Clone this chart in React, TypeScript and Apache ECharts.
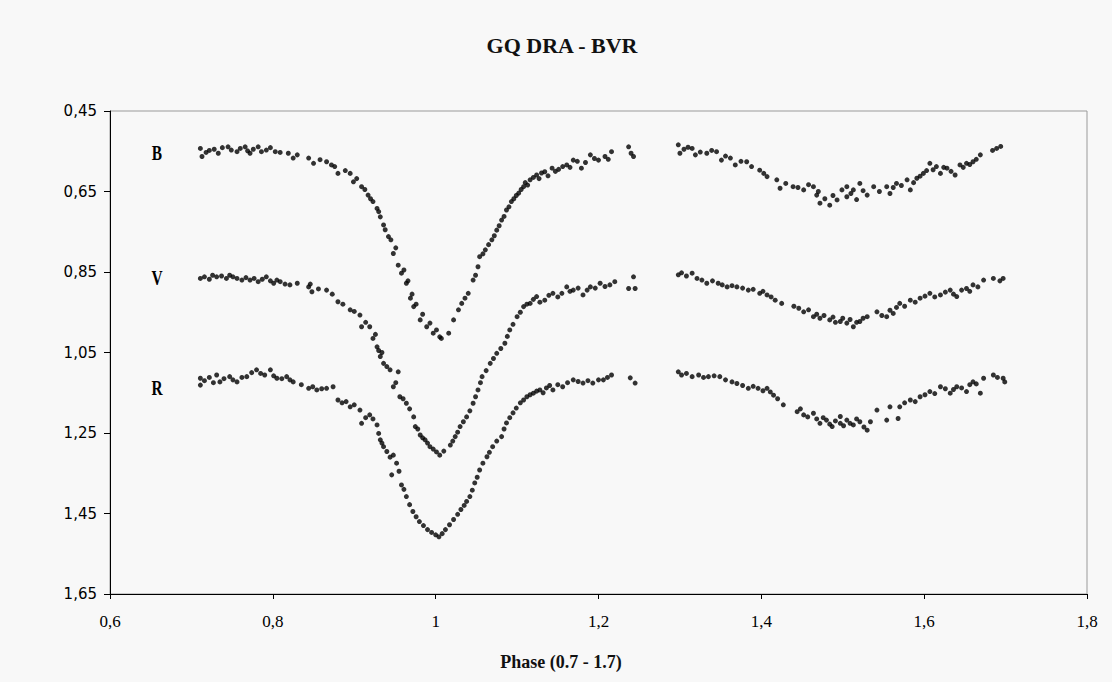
import React, { useEffect, useRef } from "react";
import * as echarts from "echarts";

const titleText = "GQ DRA - BVR";
const xAxisTitle = "Phase (0.7 - 1.7)";
const bandLabels = ["B", "V", "R"];

const bandB: number[][] = [
  [0.711,0.543],[0.713,0.563],[0.718,0.553],[0.722,0.548],[0.728,0.545],[0.733,0.555],[0.738,0.541],[0.745,0.539],[0.749,0.547],[0.756,0.551],[0.760,0.543],[0.766,0.539],[0.769,0.549],[0.772,0.555],[0.776,0.545],[0.782,0.539],[0.786,0.551],[0.792,0.547],[0.797,0.541],[0.803,0.551],[0.809,0.553],[0.819,0.555],[0.825,0.567],[0.830,0.559],[0.844,0.567],[0.850,0.580],[0.858,0.571],[0.866,0.576],[0.872,0.584],[0.876,0.588],[0.880,0.605],[0.889,0.598],[0.895,0.605],[0.899,0.626],[0.903,0.618],[0.909,0.638],[0.913,0.645],[0.917,0.659],[0.920,0.668],[0.923,0.675],[0.928,0.692],[0.930,0.700],[0.932,0.713],[0.936,0.733],[0.938,0.745],[0.942,0.762],[0.945,0.770],[0.948,0.804],[0.951,0.790],[0.954,0.833],[0.958,0.853],[0.961,0.845],[0.964,0.878],[0.966,0.872],[0.969,0.915],[0.971,0.905],[0.973,0.936],[0.976,0.930],[0.981,0.969],[0.984,0.955],[0.989,0.986],[0.993,0.977],[0.997,1.002],[1.001,0.994],[1.005,1.011],[1.007,1.015],
  [1.016,1.002],[1.022,0.969],[1.028,0.944],[1.032,0.928],[1.036,0.915],[1.040,0.903],[1.046,0.870],[1.049,0.858],[1.052,0.837],[1.054,0.812],[1.058,0.805],[1.061,0.795],[1.065,0.782],[1.069,0.770],[1.072,0.760],[1.075,0.746],[1.078,0.735],[1.081,0.721],[1.084,0.712],[1.087,0.696],[1.090,0.688],[1.093,0.675],[1.096,0.668],[1.099,0.660],[1.102,0.654],[1.105,0.645],[1.108,0.638],[1.110,0.628],[1.113,0.634],[1.116,0.621],[1.120,0.615],[1.124,0.609],[1.127,0.618],[1.130,0.604],[1.134,0.601],[1.138,0.611],[1.143,0.592],[1.147,0.600],[1.151,0.595],[1.156,0.588],[1.161,0.584],[1.165,0.590],[1.169,0.572],[1.174,0.575],[1.179,0.592],[1.184,0.578],[1.190,0.559],[1.195,0.568],[1.200,0.572],[1.208,0.563],[1.212,0.570],[1.216,0.551],[1.237,0.539],[1.240,0.555],[1.243,0.563],
  [1.298,0.534],[1.300,0.555],[1.305,0.545],[1.310,0.540],[1.315,0.543],[1.319,0.559],[1.325,0.552],[1.333,0.555],[1.339,0.548],[1.345,0.551],[1.351,0.572],[1.356,0.562],[1.362,0.567],[1.368,0.584],[1.375,0.575],[1.382,0.576],[1.388,0.588],[1.398,0.597],[1.403,0.605],[1.407,0.613],[1.419,0.621],[1.423,0.642],[1.430,0.630],[1.439,0.638],[1.445,0.640],[1.452,0.646],[1.458,0.633],[1.464,0.638],[1.468,0.659],[1.470,0.650],[1.472,0.679],[1.478,0.668],[1.484,0.684],[1.488,0.660],[1.493,0.671],[1.499,0.646],[1.505,0.663],[1.505,0.638],[1.510,0.655],[1.513,0.646],[1.517,0.670],[1.521,0.630],[1.525,0.648],[1.530,0.659],[1.538,0.638],[1.545,0.650],[1.554,0.638],[1.558,0.655],[1.562,0.640],[1.566,0.630],[1.572,0.635],[1.579,0.621],[1.583,0.646],[1.587,0.628],[1.591,0.617],[1.595,0.612],[1.599,0.605],[1.603,0.598],[1.607,0.580],[1.611,0.596],[1.615,0.588],[1.620,0.605],[1.624,0.590],[1.628,0.592],[1.633,0.600],[1.638,0.609],[1.644,0.584],[1.648,0.590],[1.652,0.580],[1.656,0.583],[1.660,0.576],[1.664,0.570],[1.669,0.559],[1.684,0.548],[1.689,0.543],[1.694,0.538]
];

const bandV: number[][] = [
  [0.711,0.866],[0.716,0.862],[0.722,0.868],[0.726,0.858],[0.731,0.862],[0.737,0.860],[0.743,0.866],[0.747,0.858],[0.751,0.862],[0.756,0.866],[0.762,0.870],[0.767,0.864],[0.772,0.870],[0.777,0.866],[0.782,0.874],[0.787,0.868],[0.792,0.862],[0.797,0.872],[0.801,0.878],[0.805,0.870],[0.809,0.874],[0.815,0.880],[0.821,0.882],[0.830,0.878],[0.844,0.887],[0.846,0.880],[0.848,0.899],[0.856,0.892],[0.866,0.895],[0.873,0.905],[0.880,0.924],[0.886,0.930],[0.895,0.944],[0.900,0.948],[0.907,0.957],[0.909,0.986],[0.914,0.975],[0.919,0.986],[0.923,1.015],[0.926,1.005],[0.928,1.036],[0.930,1.045],[0.932,1.060],[0.934,1.050],[0.936,1.077],[0.940,1.085],[0.944,1.093],[0.948,1.135],[0.951,1.125],[0.954,1.098],[0.956,1.160],[0.960,1.165],[0.964,1.176],[0.968,1.190],[0.973,1.210],[0.975,1.234],[0.978,1.240],[0.981,1.255],[0.984,1.262],[0.987,1.267],[0.990,1.275],[0.993,1.284],[0.997,1.290],[1.001,1.297],[1.005,1.305],[1.010,1.295],
  [1.018,1.280],[1.021,1.270],[1.024,1.259],[1.027,1.248],[1.030,1.234],[1.034,1.222],[1.038,1.210],[1.042,1.195],[1.046,1.176],[1.049,1.160],[1.052,1.143],[1.055,1.125],[1.057,1.110],[1.062,1.095],[1.067,1.077],[1.071,1.065],[1.075,1.052],[1.080,1.040],[1.085,1.027],[1.088,1.010],[1.091,0.994],[1.095,0.980],[1.100,0.961],[1.104,0.950],[1.108,0.936],[1.112,0.930],[1.116,0.928],[1.120,0.918],[1.124,0.911],[1.128,0.925],[1.134,0.920],[1.139,0.908],[1.144,0.903],[1.150,0.912],[1.155,0.903],[1.161,0.887],[1.165,0.898],[1.169,0.895],[1.175,0.890],[1.181,0.907],[1.186,0.895],[1.190,0.887],[1.196,0.890],[1.202,0.878],[1.208,0.886],[1.214,0.882],[1.220,0.874],[1.237,0.891],[1.243,0.862],[1.245,0.891],
  [1.298,0.857],[1.302,0.852],[1.308,0.860],[1.315,0.853],[1.321,0.866],[1.327,0.870],[1.333,0.878],[1.340,0.872],[1.347,0.878],[1.352,0.882],[1.358,0.887],[1.364,0.884],[1.370,0.887],[1.377,0.890],[1.384,0.895],[1.390,0.893],[1.398,0.903],[1.402,0.898],[1.407,0.907],[1.412,0.912],[1.417,0.920],[1.425,0.928],[1.440,0.935],[1.446,0.940],[1.452,0.949],[1.458,0.944],[1.464,0.961],[1.468,0.955],[1.472,0.965],[1.477,0.958],[1.484,0.969],[1.488,0.962],[1.491,0.975],[1.497,0.973],[1.500,0.965],[1.505,0.977],[1.509,0.968],[1.513,0.986],[1.517,0.975],[1.521,0.973],[1.525,0.965],[1.530,0.961],[1.542,0.949],[1.548,0.958],[1.554,0.961],[1.558,0.945],[1.562,0.953],[1.566,0.938],[1.570,0.928],[1.576,0.935],[1.583,0.920],[1.589,0.925],[1.595,0.915],[1.601,0.910],[1.607,0.903],[1.613,0.912],[1.620,0.907],[1.626,0.900],[1.632,0.895],[1.636,0.905],[1.640,0.911],[1.646,0.895],[1.652,0.891],[1.656,0.898],[1.660,0.882],[1.666,0.887],[1.673,0.870],[1.685,0.866],[1.693,0.872],[1.697,0.866]
];

const bandR: number[][] = [
  [0.711,1.114],[0.711,1.131],[0.716,1.120],[0.722,1.112],[0.727,1.125],[0.731,1.106],[0.735,1.123],[0.740,1.115],[0.747,1.110],[0.751,1.118],[0.756,1.123],[0.762,1.112],[0.768,1.110],[0.774,1.100],[0.780,1.093],[0.785,1.102],[0.790,1.106],[0.797,1.093],[0.801,1.108],[0.805,1.114],[0.811,1.115],[0.817,1.110],[0.821,1.118],[0.825,1.123],[0.835,1.130],[0.844,1.139],[0.849,1.135],[0.854,1.143],[0.860,1.140],[0.866,1.139],[0.874,1.135],[0.880,1.168],[0.885,1.175],[0.890,1.172],[0.895,1.185],[0.900,1.180],[0.907,1.193],[0.909,1.226],[0.914,1.212],[0.919,1.205],[0.923,1.215],[0.928,1.230],[0.930,1.251],[0.932,1.267],[0.934,1.275],[0.936,1.284],[0.940,1.296],[0.944,1.310],[0.948,1.305],[0.952,1.325],[0.946,1.354],[0.955,1.345],[0.958,1.379],[0.961,1.390],[0.964,1.408],
  [0.968,1.428],[0.972,1.445],[0.976,1.458],[0.980,1.470],[0.985,1.480],[0.990,1.490],[0.995,1.497],[1.000,1.503],[1.004,1.508],[1.008,1.500],[1.012,1.490],[1.017,1.478],[1.022,1.465],[1.027,1.452],[1.031,1.440],[1.035,1.430],[1.038,1.420],
  [1.042,1.408],[1.045,1.392],[1.048,1.374],[1.051,1.360],[1.054,1.342],[1.058,1.325],[1.063,1.309],[1.066,1.298],[1.070,1.284],[1.075,1.270],[1.081,1.259],[1.084,1.240],[1.087,1.225],[1.091,1.212],[1.095,1.200],[1.099,1.188],[1.104,1.175],[1.108,1.168],[1.112,1.160],[1.116,1.155],[1.120,1.151],[1.124,1.146],[1.128,1.143],[1.132,1.150],[1.136,1.138],[1.140,1.132],[1.144,1.143],[1.150,1.130],[1.156,1.135],[1.162,1.125],[1.169,1.118],[1.175,1.122],[1.181,1.126],[1.187,1.120],[1.193,1.126],[1.200,1.118],[1.206,1.118],[1.211,1.112],[1.216,1.106],[1.239,1.113],[1.245,1.126],
  [1.298,1.098],[1.302,1.106],[1.308,1.102],[1.315,1.110],[1.323,1.106],[1.329,1.112],[1.335,1.110],[1.342,1.108],[1.349,1.110],[1.356,1.118],[1.364,1.123],[1.370,1.127],[1.377,1.132],[1.384,1.139],[1.390,1.134],[1.396,1.139],[1.402,1.145],[1.407,1.139],[1.411,1.148],[1.415,1.156],[1.420,1.165],[1.427,1.180],[1.444,1.197],[1.448,1.190],[1.452,1.205],[1.457,1.210],[1.464,1.201],[1.468,1.215],[1.472,1.226],[1.476,1.212],[1.480,1.218],[1.484,1.228],[1.487,1.234],[1.491,1.220],[1.497,1.226],[1.497,1.209],[1.501,1.232],[1.505,1.218],[1.509,1.226],[1.513,1.230],[1.517,1.215],[1.521,1.222],[1.526,1.235],[1.530,1.243],[1.534,1.222],[1.542,1.193],[1.554,1.218],[1.558,1.185],[1.568,1.214],[1.570,1.185],[1.576,1.175],[1.583,1.168],[1.589,1.172],[1.595,1.160],[1.601,1.155],[1.607,1.147],[1.613,1.152],[1.620,1.135],[1.626,1.140],[1.632,1.151],[1.636,1.142],[1.640,1.135],[1.646,1.138],[1.652,1.147],[1.656,1.130],[1.660,1.123],[1.664,1.128],[1.669,1.151],[1.673,1.114],[1.685,1.106],[1.690,1.112],[1.697,1.114],[1.699,1.123]
];

export default function App() {
  const ref = useRef<HTMLDivElement>(null);
  useEffect(() => {
    if (!ref.current) return;
    const chart = echarts.init(ref.current, null, { renderer: "svg" });
    const serif = "'Liberation Serif', 'Times New Roman', serif";
    const dotSeries = (name: string, data: number[][]) => ({
      name,
      type: "scatter",
      data,
      symbol: "circle",
      symbolSize: 5,
      itemStyle: { color: "#000" },
      silent: true,
    });
    const labelY = [152, 277, 387];
    chart.setOption({
      animation: false,
      backgroundColor: "#f8f8f8",
      grid: {
        left: 110,
        top: 111,
        width: 977,
        height: 483,
        show: true,
        borderColor: "#9a9a9a",
        borderWidth: 1,
        backgroundColor: "transparent",
      },
      xAxis: {
        type: "value",
        min: 0.6,
        max: 1.8,
        interval: 0.2,
        splitLine: { show: false },
        axisLine: { show: true, onZero: false, lineStyle: { color: "#000", width: 1 } },
        axisTick: { show: true, inside: false, length: 5, lineStyle: { color: "#000" } },
        axisLabel: {
          margin: 19,
          fontFamily: serif,
          fontSize: 17,
          color: "#000",
          formatter: (v: number) => String(Math.round(v * 10) / 10).replace(".", ","),
        },
      },
      yAxis: {
        type: "value",
        inverse: true,
        min: 0.45,
        max: 1.65,
        interval: 0.2,
        splitLine: { show: false },
        axisLine: { show: true, onZero: false, lineStyle: { color: "#000", width: 1 } },
        axisTick: { show: true, inside: false, length: 6, lineStyle: { color: "#000" } },
        axisLabel: {
          margin: 13,
          fontFamily: "'DejaVu Sans', Verdana, sans-serif",
          fontSize: 15,
          color: "#000",
          formatter: (v: number) => v.toFixed(2).replace(".", ","),
        },
      },
      graphic: [
        {
          type: "text",
          x: 562,
          y: 45,
          style: {
            text: titleText,
            fontFamily: serif,
            fontWeight: "bold",
            fontSize: 22,
            fill: "#111",
            textAlign: "center",
            textVerticalAlign: "middle",
          },
        },
        {
          type: "text",
          x: 561,
          y: 662,
          style: {
            text: xAxisTitle,
            fontFamily: serif,
            fontWeight: "bold",
            fontSize: 18,
            fill: "#111",
            textAlign: "center",
            textVerticalAlign: "middle",
          },
        },
        ...bandLabels.map((t, i) => ({
          type: "text",
          x: 157,
          y: labelY[i],
          scaleX: 0.7,
          style: {
            text: t,
            fontFamily: serif,
            fontWeight: "bold",
            fontSize: 22,
            fill: "#000",
            textAlign: "center",
            textVerticalAlign: "middle",
          },
        })),
      ],
      series: [dotSeries("B", bandB), dotSeries("V", bandV), dotSeries("R", bandR)],
    });
    return () => chart.dispose();
  }, []);
  return (
    <div
      ref={ref}
      style={{ position: "fixed", left: 0, top: 0, width: 1112, height: 682 }}
    />
  );
}
